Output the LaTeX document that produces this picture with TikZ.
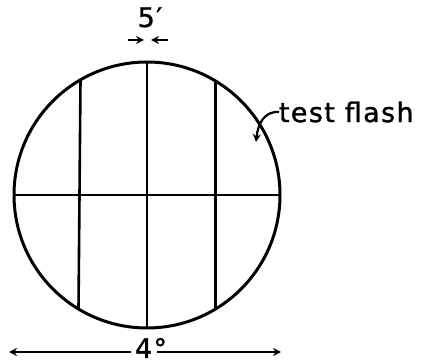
\documentclass[tikz,border=0pt]{standalone}
\usepackage{fontspec}
\setmainfont{DejaVu Sans}[LetterSpace=5, FakeBold=1.2]
\usetikzlibrary{arrows.meta,calc}
\begin{document}
\begin{tikzpicture}[x=1pt,y=-1pt,
  lbl/.style={font=\fontsize{27}{30}\selectfont, inner sep=0pt, outer sep=0pt},
  ln/.style={line width=2.6pt},
  tip/.style={-{Stealth[length=8pt,width=8pt]}, line width=2.8pt}]
\useasboundingbox (0,0) rectangle (426,363);
\node[draw, circle, line width=3pt, minimum size=266pt, inner sep=0pt, outer sep=0pt] (c) at (147,195) {};
\draw[ln] (c.west) -- (c.east);
\draw[ln] (c.north) -- (c.south);
\draw[ln] (c.120.3) -- (c.239.7);
\draw[ln] (c.59.7) -- (c.-59.7);
% 5' marker
\node[lbl, anchor=base] (five) at (150,27) {5′};
\coordinate (a1) at (128,40);
\coordinate (a2) at (144,40);
\coordinate (b1) at (168,40);
\coordinate (b2) at (151,40);
\draw[tip] (a1) -- (a2);
\draw[tip] (b1) -- (b2);
% test flash
\node[lbl, anchor=west] (tf) at (279,112) {test flash};
\coordinate (tfend) at (256,142);
\draw[tip, line width=2.2pt] (tf.west) .. controls (264,111) and (258,124) .. (tfend);
% 4 degree
\node[lbl, anchor=base] (four) at (151,358) {4°};
\coordinate (l1) at (131,352);
\coordinate (l2) at (9,352);
\coordinate (r1) at (157,352);
\coordinate (r2) at (281,352);
\draw[tip] (l1) -- (l2);
\draw[tip] (r1) -- (r2);
\end{tikzpicture}
\end{document}
